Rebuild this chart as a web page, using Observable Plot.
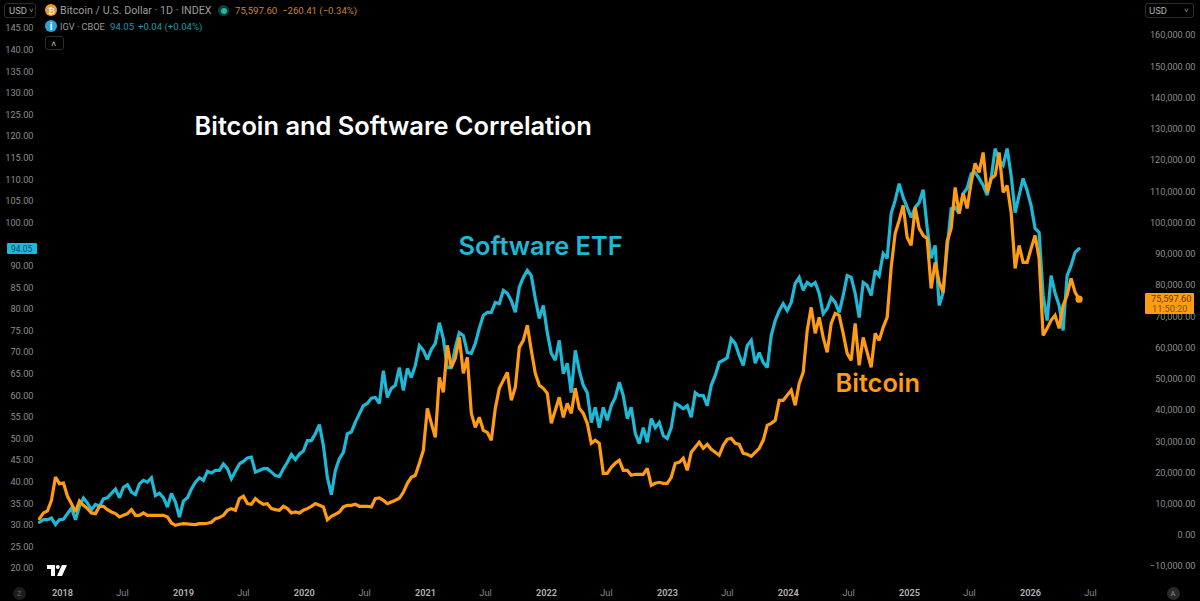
<!DOCTYPE html>
<html><head><meta charset="utf-8">
<script src="https://cdn.jsdelivr.net/npm/d3@7"></script>
<script src="https://cdn.jsdelivr.net/npm/@observablehq/plot@0.6"></script>
<style>
html,body{margin:0;padding:0;background:#000;overflow:hidden}
#wrap{position:relative;width:1200px;height:601px;background:#000;font-family:Roboto,sans-serif}
#wrap svg{display:block}
.c{position:absolute;white-space:nowrap;line-height:1}
.box{position:absolute;box-sizing:border-box;border:1px solid #2e2e2e;border-radius:3px}
</style></head><body><div id="wrap"></div>
<script>
const seriesStart = "2017-10-23T12:00:00Z";
const stepDays = 12.07;
const igvValues = [
30.7,31.3,31.3,31.7,30.2,31.3,31.4,32.7,34.0,31.3,34.4,36.3,35.1,33.6,34.8,34.4,36.1,36.4,37.4,38.4,36.4,38.8,39.4,37.7,37.1,39.6,40.4,40.0,41.0,36.9,37.4,36.4,34.2,37.4,35.4,31.9,35.6,36.4,38.4,40.0,41.0,40.4,42.5,42.1,
42.7,42.7,44.2,43.1,40.8,42.5,44.2,44.8,45.6,45.8,42.3,42.7,43.1,43.1,42.3,41.5,41.3,43.1,44.6,46.4,45.2,46.5,47.2,49.6,49.6,51.2,53.3,48.5,41.1,37.1,42.7,45.4,46.9,51.2,51.6,53.9,55.8,57.7,
58.2,59.4,59.6,58.2,65.8,59.6,61.7,
62.4,66.5,61.2,66.3,64.2,67.0,71.6,70.5,68.4,70.7,72.1,76.9,73.2,66.5,66.5,71.2,74.6,73.9,70.0,69.8,72.1,75.6,78.6,79.3,79.3,81.6,81.3,84.4,83.7,82.0,79.3,85.1,87.4,89.0,87.8,82.5,77.9,80.9,74.6,69.8,68.2,72.8,65.1,67.5,60.7,70.5,
65.8,62.4,60.7,53.8,57.3,52.6,57.3,54.3,57.7,59.6,63.1,60.0,54.7,57.3,51.3,48.9,52.6,49.2,54.7,52.6,53.8,50.8,50.1,52.6,58.2,57.7,57.0,57.7,55.0,60.7,60.0,60.0,57.7,62.4,64.7,67.7,68.2,68.8,73.2,72.1,69.3,67.0,71.6,72.8,67.5,
70.0,67.7,66.5,73.9,77.4,79.7,81.3,79.7,81.6,86.0,87.4,84.4,86.2,85.5,86.2,83.7,79.0,80.2,82.7,81.6,79.3,83.2,87.8,87.4,83.7,78.1,86.2,85.5,83.2,89.0,87.8,92.9,91.8,102.2,105.2,109.1,105.9,103.6,101.3,103.6,104.7,107.7,98.9,91.8,
94.8,80.9,83.9,94.1,103.3,103.6,102.2,106.8,108.0,111.4,111.7,110.3,108.7,106.4,110.3,117.2,114.5,113.3,117.2,111.0,102.4,106.4,110.3,107.5,104.0,98.7,97.8,83.2,77.4,87.8,83.7,80.9,75.1,87.8,90.1,93.2,94.05
];
const btcValues = [
5333,7150,7790,11200,18670,16530,16750,12480,10130,7470,11000,9600,8530,7150,6930,9280,9280,8210,7470,6930,5870,6400,6930,8210,6400,6400,7150,6400,6400,6400,6400,6400,5870,3950,3200,3520,3730,3620,3520,3410,3730,3730,3840,4160,
5330,5650,6400,8000,8530,8000,11730,12480,10130,9920,11730,10670,9920,10130,8530,8210,8000,9280,8530,7150,7470,7150,8000,8530,9280,10130,9600,9070,5010,6080,6720,7470,9070,9600,9600,9920,9280,9280,9280,9070,11730,11950,11200,10130,10670,
11200,11840,13760,16640,18560,19200,23040,27200,40640,35840,31360,50560,45760,60800,53760,56640,63360,51840,56960,39040,34560,37760,33600,32960,30400,40640,47040,49600,52160,43200,47360,60160,62400,67200,59200,51840,48000,47040,45440,35840,40000,44160,37760,42240,39040,47040,
40640,39040,35840,29440,30400,29440,19840,19840,21760,23040,24000,20800,20800,19200,19520,19520,19520,21440,16000,16640,16960,16640,16640,18560,23040,23360,24640,20800,26560,28160,29760,27840,29120,27520,26560,25600,28800,30720,31040,29440,29120,26240,25920,25280,26560,
27840,30400,35200,35840,36800,43200,43200,44800,46400,41600,48640,52160,65600,72960,64640,69760,63360,58560,67840,71040,70400,64640,58240,56000,67840,54400,63360,58560,53760,64640,62400,66560,69760,85760,96640,100800,105600,95360,92800,104960,98240,96000,95040,79040,
87360,80960,77760,94080,98240,111360,103040,109440,104640,112960,119040,116160,122560,109760,114240,115200,122560,109760,112000,103360,85440,92800,87360,87360,91840,96000,88640,64000,66240,68800,70400,66240,73600,76800,82240,77760,75597.6
];
const leftTicks = d3.range(20, 146, 5).filter(v => v !== 95);
const rightTicks = d3.range(-10000, 160001, 10000);
const yearLabels = [2018,2019,2020,2021,2022,2023,2024,2025,2026];

const colors = {igv:"#1db9d6", btc:"#ff9c12", axis:"#8c8c8c", year:"#b4b4b4"};
const when = i => new Date(+new Date(seriesStart) + i * stepDays * 864e5);
const igvRows = igvValues.map((v,i)=>({date:when(i), v}));
const btcToLeft = d3.scaleLinear([-10000,160000],[20.46,143.38]);
const btcRows = btcValues.map((v,i)=>({date:when(i), v:btcToLeft(v)}));
const years = yearLabels.map(y=>new Date(Date.UTC(y,0,1)));
const julys = yearLabels.map(y=>new Date(Date.UTC(y,6,1)));
const commas = d3.format(",.2f");
const rightFmt = d => (d<0?"\u2212":"") + commas(Math.abs(d));
const annot = {textAnchor:"start", lineAnchor:"middle", frameAnchor:"top-left", fontSize:25.4, fontWeight:600, fontFamily:"Inter,sans-serif"};
const lineStyle = {x:"date", y:"v", strokeWidth:3.2, strokeLinejoin:"miter", strokeMiterlimit:2.5};

const chart = Plot.plot({
  width:1200, height:601,
  marginLeft:33, marginRight:5, marginTop:0, marginBottom:12,
  style:{background:"#000", fontFamily:"Roboto,sans-serif", fontSize:"9.2px", overflow:"visible"},
  x:{type:"utc", domain:[years[0], years[8]], range:[62,1030], label:null},
  y:{domain:[20,145], range:[568,28], label:null},
  marks:[
    Plot.axisY(leftTicks,{anchor:"left", tickSize:0, tickPadding:0, tickFormat:d3.format(".2f"), label:null, fill:colors.axis}),
    Plot.axisY(rightTicks,{anchor:"right", y:btcToLeft, tickSize:0, tickPadding:0, tickFormat:rightFmt, textAnchor:"end", label:null, fill:colors.axis}),
    Plot.axisX(julys,{anchor:"bottom", tickSize:0, tickPadding:0, tickFormat:()=>"Jul", label:null, fill:colors.axis}),
    Plot.axisX(years,{anchor:"bottom", tickSize:0, tickPadding:0, tickFormat:d=>String(d.getUTCFullYear()), label:null, fill:colors.year, fontWeight:600}),
    Plot.line(igvRows,{...lineStyle, stroke:colors.igv}),
    Plot.line(btcRows,{...lineStyle, stroke:colors.btc}),
    Plot.dot(btcRows.slice(-1),{x:"date", y:"v", r:3.6, fill:colors.btc}),
    Plot.text(["Bitcoin and Software Correlation"],{...annot, dx:161, dy:126, fill:"#fff"}),
    Plot.text(["Software ETF"],{...annot, dx:425, dy:246, fill:colors.igv}),
    Plot.text(["Bitcoin"],{...annot, dx:802, dy:383, fill:colors.btc})
  ]
});
const wrap = document.getElementById("wrap");
wrap.appendChild(chart);

function txt(s,x,y,size,color,extra){
  const d=document.createElement("div");d.className="c";d.textContent=s;
  d.style.cssText=`left:${x}px;top:${y}px;font-size:${size}px;color:${color};transform:translateY(-50%);${extra||""}`;
  wrap.appendChild(d);return d;
}
function box(x,y,w,h,extra){
  const d=document.createElement("div");d.className="box";
  d.style.cssText=`left:${x}px;top:${y}px;width:${w}px;height:${h}px;${extra||""}`;
  wrap.appendChild(d);return d;
}
box(4,3,32,15); txt("USD",9,10.5,9.5,"#b0b0b0"); txt("\u02C5",29,11,8,"#9a9a9a");
box(1145,3,49,15); txt("USD",1149,10.5,9.5,"#b0b0b0"); txt("\u02C5",1184,11,8,"#9a9a9a");
box(45,4,12,12,"border:none;border-radius:50%;background:#f09a2e");
txt("\u20BF",48.3,10.5,9,"#fff");
txt("Bitcoin / U.S. Dollar \u00B7 1D \u00B7 INDEX",60,10.5,10.7,"#9c9c9c");
box(218,5,11,11,"border:none;border-radius:50%;background:#0d3d38");
box(221,7.5,6,6,"border:none;border-radius:50%;background:#27b59a");
txt("75,597.60",235,10.5,9.6,"#c9862a");
txt("\u2212260.41 (\u22120.34%)",282,10.5,9.6,"#c9862a");
box(45,20,12,12,"border:none;border-radius:50%;background:#2aa2de");
txt("i",49.8,26.5,10,"#fff","font-weight:700");
txt("IGV \u00B7 CBOE",60,26.5,9.2,"#9c9c9c");
txt("94.05",110,26.5,9.6,"#1a9aa8");
txt("+0.04 (+0.04%)",138,26.5,9.6,"#1a9aa8");
box(45,36,19,14); txt("\u02C4",51,43.5,9,"#c8c8c8");
box(7,243,30,10.5,"border:none;border-radius:1px;background:#1fb8d8");
txt("94.05",11,248.5,8.5,"#064a58");
box(1145,293,49,21,"border:none;border-radius:1px;background:#ff9c12");
txt("75,597.60",1151,299,9.2,"#5e3a00");
txt("11:50:20",1152,308.5,9.2,"#7d5208");
box(13,587,13,13,"border:none;border-radius:50%;background:#1c1c1c"); txt("Z",17,594,7.5,"#666");
box(1167,587,13,13,"border:none;border-radius:50%;background:#2a2a2a"); txt("A",1170.5,594,7.5,"#8a8a8a");
const ns="http://www.w3.org/2000/svg";
const logo=document.createElementNS(ns,"svg");
logo.setAttribute("width","20");logo.setAttribute("height","11");logo.setAttribute("viewBox","0 0 20 11");
logo.style.cssText="position:absolute;left:47px;top:565px";
logo.innerHTML='<path fill="#fff" d="M0 0H8V11H4V4H0Z"/><circle cx="10.8" cy="2" r="2" fill="#fff"/><path fill="#fff" d="M15 0H20L15 11H10Z"/>';
wrap.appendChild(logo);
</script></body></html>
